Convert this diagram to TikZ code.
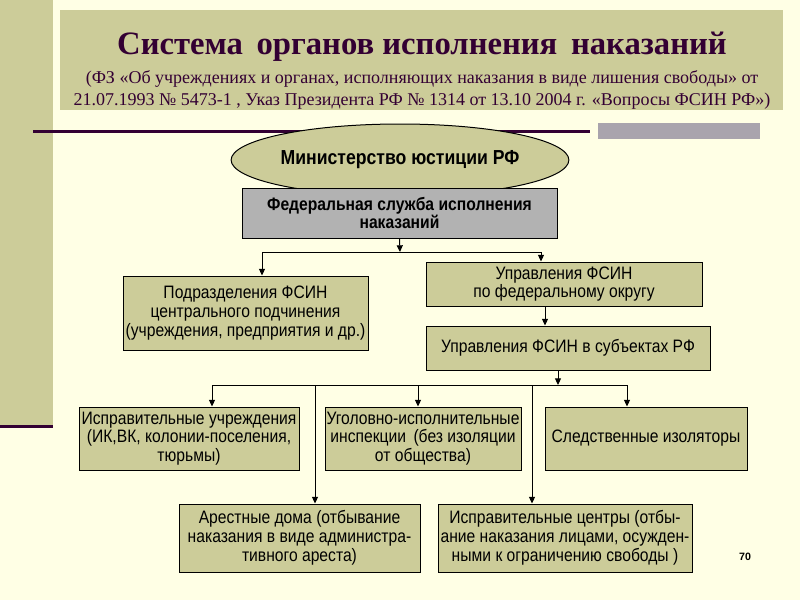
\documentclass[tikz,border=0pt]{standalone}
\usepackage{fontspec}
\setmainfont{Liberation Serif}
\newfontfamily\arialn[FakeStretch=0.87]{Liberation Sans}
\newfontfamily\arial{Liberation Sans}
\usetikzlibrary{arrows.meta,shapes.geometric}
\definecolor{bg}{HTML}{FFFFE5}
\definecolor{olive}{HTML}{CCCC99}
\definecolor{fsgrey}{HTML}{B2B2B2}
\definecolor{plum}{HTML}{330033}
\definecolor{stripgrey}{HTML}{A9A4AD}
\tikzset{
  box/.style={draw=black, fill=olive, line width=0.75pt, inner sep=0pt, align=center,
    font=\arialn\fontsize{13.5}{14.1}\selectfont},
  link/.style={draw=black, line width=0.75pt},
  arr/.style={link, -{Triangle[width=4.5pt,length=5pt]}},
}
\begin{document}
\begin{tikzpicture}[x=0.75pt,y=-0.75pt]
\useasboundingbox (0,0) rectangle (800,600);
\fill[bg] (0,0) rectangle (800,600);
\fill[olive] (0,0) rectangle (53,425);
\draw[plum, line width=2.25pt] (0,426) -- (53,426);
\fill[olive] (60,10) rectangle (783,110);
\draw[plum, line width=2.25pt] (33,131) -- (590,131);
\fill[stripgrey] (598,123) rectangle (760,139);
\node[text=plum, font=\bfseries\fontsize{24.5}{28}\selectfont] (title) at (422,47) {Система\, органов исполнения\, наказаний};
\node[text=plum, align=center, font=\fontsize{13.5}{17}\selectfont] (sub) at (422,90) {(ФЗ «Об учреждениях и органах, исполняющих наказания в виде лишения свободы» от\\21.07.1993 № 5473-1 , Указ Президента РФ № 1314 от 13.10 2004 г. «Вопросы ФСИН РФ»)};

\node[ellipse, draw=black, fill=olive, line width=0.75pt, minimum width=187.5pt, minimum height=54pt, inner sep=0pt,
  font=\arialn\bfseries\fontsize{15.2}{16}\selectfont] (min) at (400,160) {Министерство юстиции РФ};
\node[box, fill=fsgrey, minimum width=236.25pt, minimum height=37.5pt, font=\arialn\bfseries\fontsize{13.5}{13.8}\selectfont] (fsin) at (399.5,213) {Федеральная служба исполнения\\наказаний};

\node[box, minimum width=183.75pt, minimum height=55.5pt] (podr) at (245.5,313) {Подразделения ФСИН\\центрального подчинения\\(учреждения, предприятия и др.)};
\node[box, minimum width=207pt, minimum height=33pt] (ufo) at (564,284) {Управления ФСИН\\по федеральному округу};
\node[box, minimum width=213pt, minimum height=33pt] (usub) at (568,348) {Управления ФСИН в субъектах РФ};

\node[box, minimum width=165pt, minimum height=47.25pt] (iu) at (189,438.5) {Исправительные учреждения\\(ИК,ВК, колонии-поселения,\\тюрьмы)};
\node[box, minimum width=147pt, minimum height=47.25pt] (uii) at (423,438.5) {Уголовно-исполнительные\\инспекции\, (без изоляции\\от общества)};
\node[box, minimum width=151.5pt, minimum height=47.25pt] (si) at (646,438.5) {Следственные изоляторы};

\node[box, minimum width=180.75pt, minimum height=51pt] (ad) at (299.5,538) {Арестные дома (отбывание\\наказания в виде администра-\\тивного ареста)};
\node[box, minimum width=190.5pt, minimum height=51pt] (ic) at (565,538) {Исправительные центры (отбы-\\ание наказания лицами, осужден-\\ными к ограничению свободы )};

\node[font=\arial\bfseries\fontsize{8}{9}\selectfont] (pg) at (745,557) {70};

% connectors level 1
\coordinate (j1) at (400,252);
\coordinate (h1) at (262,252);
\coordinate (h2) at (541,252);
\draw[arr] (fsin.south) -- (j1);
\draw[link] (h1) -- (h2);
\draw[arr] (h1) -- (h1 |- podr.north);
\draw[arr] (h2) -- (h2 |- ufo.north);
\coordinate (v1) at (545,306);
\draw[arr] (ufo.south -| v1) -- (usub.north -| v1);
% level 2
\coordinate (j2) at (558,385);
\coordinate (g1) at (212,385);
\coordinate (g2) at (418,385);
\coordinate (g3) at (627,385);
\coordinate (g4) at (315,385);
\coordinate (g5) at (532,385);
\draw[arr] (usub.south -| j2) -- (j2);
\draw[link] (g1) -- (g3);
\draw[arr] (g1) -- (g1 |- iu.north);
\draw[arr] (g2) -- (g2 |- uii.north);
\draw[arr] (g3) -- (g3 |- si.north);
\draw[arr] (g4) -- (g4 |- ad.north);
\draw[arr] (g5) -- (g5 |- ic.north);
\end{tikzpicture}
\end{document}
